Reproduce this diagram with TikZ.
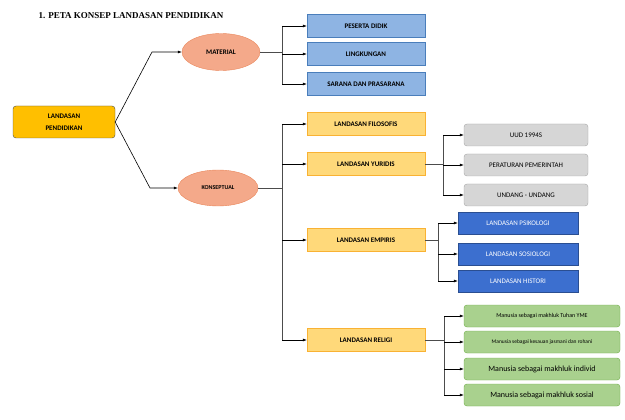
\documentclass[tikz,border=0pt]{standalone}
\usepackage{fontspec}
\setmainfont{Carlito}
\newfontfamily\tms{Liberation Serif}
\usetikzlibrary{arrows.meta,shapes.geometric}
\definecolor{bl}{HTML}{8EB4E3}
\definecolor{blb}{HTML}{4A7EBB}
\definecolor{db}{HTML}{3C6FCF}
\definecolor{og}{HTML}{FFD97A}
\definecolor{ogb}{HTML}{F9B233}
\definecolor{gr}{HTML}{A9D18E}
\definecolor{grb}{HTML}{70AD47}
\definecolor{el}{HTML}{F4A98A}
\definecolor{elb}{HTML}{E9865A}
\definecolor{gy}{HTML}{D6D6D6}
\begin{document}
\begin{tikzpicture}[x=1pt,y=-1pt,
 ar/.style={-{Latex[length=4pt,width=3pt]},line width=0.6pt},
 ln/.style={line width=0.6pt,draw=black!70},
 bx/.style={draw,minimum height=23pt,inner sep=1pt,font=\fontsize{7}{8}\selectfont},
 blue/.style={bx,fill=bl,draw=blb,minimum width=118pt,font=\fontsize{7}{8}\selectfont\bfseries},
 org/.style={bx,fill=og,draw=ogb,minimum width=118pt,font=\fontsize{7}{8}\selectfont\bfseries},
 gry/.style={bx,rounded corners=3pt,fill=gy,draw=black!35,minimum width=124pt,minimum height=22pt},
 dbl/.style={bx,fill=db,draw=db!70!black,text=white,minimum width=120pt,minimum height=22pt,font=\fontsize{7}{8}\selectfont},
 grn/.style={bx,rounded corners=3pt,fill=gr,draw=grb,minimum width=156pt,minimum height=22pt},
 ell/.style={ellipse,draw=elb,fill=el,minimum width=78pt,minimum height=37pt,font=\fontsize{7}{8}\selectfont\bfseries}]
\useasboundingbox (0,0) rectangle (625,420);
\node[font=\tms\fontsize{9}{10}\selectfont\bfseries,anchor=west] (t) at (35,16) {1. PETA KONSEP LANDASAN PENDIDIKAN};
\node[draw=black!70,fill=orange!50!yellow,rounded corners=3pt,minimum width=102pt,minimum height=32pt,align=center,font=\fontsize{7}{12}\selectfont\bfseries] (lp) at (64,122) {LANDASAN\\PENDIDIKAN};
\node[ell] (mat) at (221,52) {MATERIAL};
\node[ell,minimum width=80pt,minimum height=36pt,font=\fontsize{6}{7}\selectfont\bfseries] (kon) at (218,188) {KONSEPTUAL};
\node[blue] (b1) at (366,26) {PESERTA DIDIK};
\node[blue] (b2) at (366,54) {LINGKUNGAN};
\node[blue] (b3) at (366,84) {SARANA DAN PRASARANA};
\node[org] (o1) at (366,124) {LANDASAN FILOSOFIS};
\node[org] (o2) at (366,164) {LANDASAN YURIDIS};
\node[org] (o3) at (366,240) {LANDASAN EMPIRIS};
\node[org] (o4) at (366,340) {LANDASAN RELIGI};
\node[gry] (g1) at (526,135) {UUD 1994S};
\node[gry] (g2) at (526,165) {PERATURAN PEMERINTAH};
\node[gry] (g3) at (526,195) {UNDANG - UNDANG};
\node[dbl] (d1) at (518,223) {LANDASAN PSIKOLOGI};
\node[dbl] (d2) at (518,254) {LANDASAN SOSIOLOGI};
\node[dbl] (d3) at (518,281) {LANDASAN HISTORI};
\node[grn,font=\fontsize{6}{7}\selectfont] (n1) at (542,316) {Manusia sebagai makhluk Tuhan YME};
\node[grn,font=\fontsize{5.5}{7}\selectfont] (n2) at (542,342) {Manusia sebagai kesauan jasmani dan rohani};
\node[grn,font=\fontsize{8}{9}\selectfont] (n3) at (542,369) {Manusia sebagai makhluk individ};
\node[grn,font=\fontsize{8}{9}\selectfont] (n4) at (542,395) {Manusia sebagai makhluk sosial};
% main
\draw[ar] (lp.east) -- (152,52) -- (mat.west);
\draw[ar] (lp.east) -- (150,188) -- (kon.west);
\coordinate (c1) at (282,52);
\draw[ln] (mat.east) -- (c1);
\draw[ln] (282,26) -- (282,84);
\foreach \n in {b1,b2,b3} \draw[ar] (282,0|-\n.west) -- (\n.west);
\draw[ln] (kon.east) -- (282,188);
\draw[ln] (282,124) -- (282,340);
\foreach \n in {o1,o2,o3,o4} \draw[ar] (282,0|-\n.west) -- (\n.west);
\draw[ln] (o2.east) -- (443,164);
\draw[ln] (443,135) -- (443,195);
\foreach \n in {g1,g2,g3} \draw[ar] (443,0|-\n.west) -- (\n.west);
\draw[ln] (o3.east) -- (438,240);
\draw[ln] (438,223) -- (438,281);
\foreach \n in {d1,d2,d3} \draw[ar] (438,0|-\n.west) -- (\n.west);
\draw[ln] (o4.east) -- (444,340);
\draw[ln] (444,316) -- (444,395);
\foreach \n in {n1,n2,n3,n4} \draw[ar] (444,0|-\n.west) -- (\n.west);
\end{tikzpicture}
\end{document}
